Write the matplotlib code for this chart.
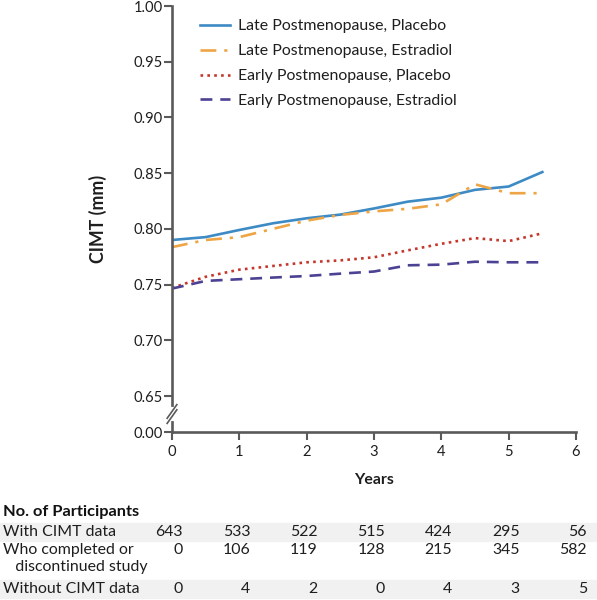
import matplotlib
matplotlib.use("Agg")
import matplotlib.pyplot as plt
from matplotlib.patches import Rectangle
from matplotlib.lines import Line2D
from matplotlib.transforms import blended_transform_factory

plt.rcParams['font.family'] = ['Lato', 'DejaVu Sans']

years = [0, 0.5, 1, 1.5, 2, 2.5, 3, 3.5, 4, 4.5, 5, 5.5]
late_placebo = [0.790, 0.7926, 0.799, 0.805, 0.8095, 0.8128, 0.8183, 0.8244, 0.828, 0.835, 0.838, 0.851]
late_estradiol = [0.7836, 0.790, 0.7926, 0.800, 0.8074, 0.8125, 0.8157, 0.818, 0.822, 0.840, 0.832, 0.832]
early_placebo = [0.747, 0.757, 0.7634, 0.7667, 0.770, 0.7717, 0.7745, 0.7807, 0.7866, 0.7917, 0.789, 0.796]
early_estradiol = [0.7464, 0.7533, 0.7548, 0.7563, 0.7577, 0.7598, 0.7617, 0.7673, 0.7679, 0.7705, 0.770, 0.770]

series_names = ["Late Postmenopause, Placebo", "Late Postmenopause, Estradiol",
                "Early Postmenopause, Placebo", "Early Postmenopause, Estradiol"]

table_years = [0, 1, 2, 3, 4, 5, 6]
with_cimt = [643, 533, 522, 515, 424, 295, 56]
completed = [0, 106, 119, 128, 215, 345, 582]
without_cimt = [0, 4, 2, 0, 4, 3, 5]
row_labels = ["With CIMT data", "Who completed or", "   discontinued study", "Without CIMT data"]

ytick_vals = [0.65, 0.70, 0.75, 0.80, 0.85, 0.90, 0.95, 1.00]
ybottom = 0.6177

fig = plt.figure(figsize=(5.97, 6.0), dpi=100)
renderer = fig.canvas.get_renderer()


def fit(txt, target_px, **kw):
    t = fig.text(0, 0, txt, fontsize=10, **kw)
    w = t.get_window_extent(renderer).width
    t.remove()
    return 10 * target_px / w


fs_body = fit("Late Postmenopause, Placebo", 209)
fs_tick = fit("0.95", 29)
fs_bold = fit("No. of Participants", 136, fontweight='bold')
fs_ylab = fit("CIMT (mm)", 88, fontweight='bold')
fs_xlab = fit("Years", 40, fontweight='bold')

ax = fig.add_axes([172/597, 1-432/600, (576-172)/597, (432-6)/600])

axcol = "#5a5a5a"
txtcol = "#1e1e1e"
ax.plot(years, late_placebo, color="#3d8ac4", lw=1.9, ls="-", label=series_names[0])
ax.plot(years, late_estradiol, color="#eda545", lw=1.9, ls=(0, (6, 3, 1.2, 3)), label=series_names[1])
ax.plot(years, early_placebo, color="#c4382c", lw=1.9, ls=(0, (1, 1.6)), label=series_names[2])
ax.plot(years, early_estradiol, color="#4c4294", lw=1.9, ls=(0, (4.5, 3)), label=series_names[3])

ax.set_xlim(0, 6)
ax.set_ylim(ybottom, 1.0)
ax.set_xticks(range(0, 7))
ax.set_yticks([ybottom] + ytick_vals)
ax.set_yticklabels(["0.00"] + [f"{v:.2f}" for v in ytick_vals])
ax.tick_params(axis='both', direction='out', length=6, width=1.5, color=axcol,
               labelsize=fs_tick, labelcolor=txtcol)
ax.tick_params(axis='y', pad=0.8)
ax.tick_params(axis='x', pad=3)
for s in ['top', 'right']:
    ax.spines[s].set_visible(False)
for s in ['left', 'bottom']:
    ax.spines[s].set_color(axcol)
    ax.spines[s].set_linewidth(1.9)

fig.text(98/597, 1-219/600, "CIMT (mm)", rotation=90, fontsize=fs_ylab, fontweight='bold',
         ha='center', va='center', color=txtcol)
fig.text(374/597, 1-480/600, "Years", fontsize=fs_xlab, fontweight='bold',
         ha='center', va='center', color=txtcol)

# axis break marks
ybr = 1 - (414 - 6) / (432 - 6)
ax.add_line(Line2D([0, 0], [ybr - 0.012, ybr + 0.012], transform=ax.transAxes,
                   color='white', lw=3, clip_on=False, zorder=5))
for dy in (-0.006, 0.006):
    ax.add_line(Line2D([-0.012, 0.012], [ybr + dy - 0.016, ybr + dy + 0.016],
                       transform=ax.transAxes, color=axcol, lw=1.2,
                       clip_on=False, zorder=6))

fpx = fs_body * 100 / 72
leg = ax.legend(loc='upper left', bbox_to_anchor=(200/597, 1 - (29 - 0.62 * fpx)/600),
                bbox_transform=fig.transFigure, frameon=False, borderpad=0, borderaxespad=0,
                fontsize=fs_body, handlelength=30/fpx, handletextpad=8/fpx,
                labelspacing=(26.7 - 1.0 * fpx) / fpx)
for t in leg.get_texts():
    t.set_color(txtcol)

# table
def fy(py):
    return 1 - py / 600

fig.text(3/597, fy(512), "No. of Participants", fontsize=fs_bold, fontweight='bold',
         va='center', ha='left', color="#111111")
fig.patches.append(Rectangle((0, fy(541)), 1, (541-523)/600, transform=fig.transFigure,
                             color="#f1f1f1", zorder=0))
fig.patches.append(Rectangle((0, fy(598)), 1, (598-580)/600, transform=fig.transFigure,
                             color="#f1f1f1", zorder=0))
for lab, py in zip(row_labels, [532, 550, 567, 589]):
    fig.text(3/597, fy(py), lab, fontsize=fs_body, va='center', ha='left', color=txtcol)

trans = blended_transform_factory(ax.transData, fig.transFigure)
for yr, a, b, c in zip(table_years, with_cimt, completed, without_cimt):
    xr = yr + 11 / 67.4
    for val, py in ((a, 532), (b, 550), (c, 589)):
        fig.text(xr, fy(py), str(val), transform=trans, fontsize=fs_body,
                 va='center', ha='right', color=txtcol)

fig.savefig("out.png", dpi=100)
